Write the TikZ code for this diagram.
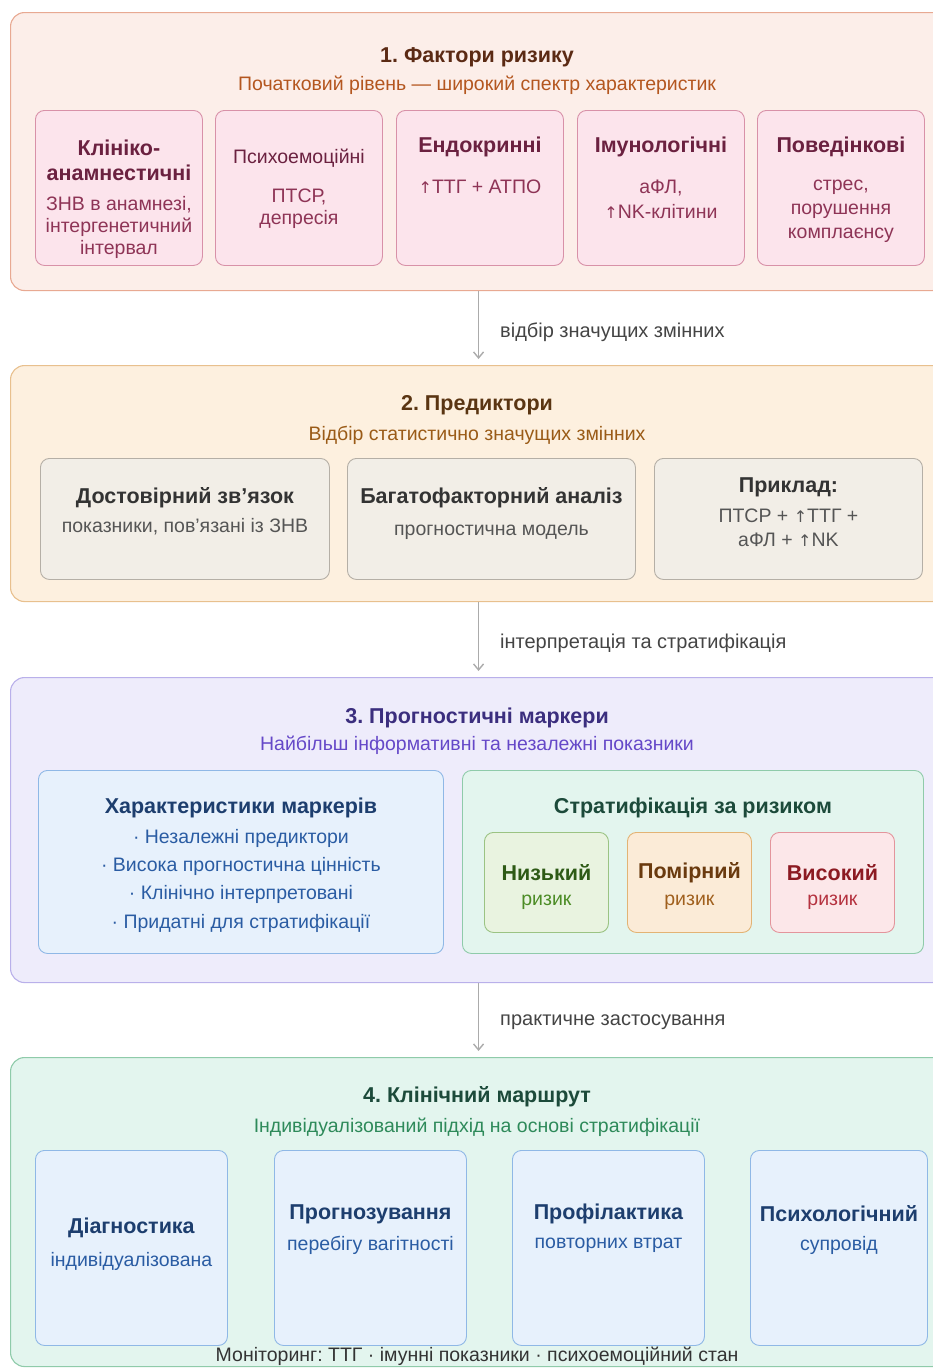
\documentclass[tikz,border=0pt]{standalone}
\usepackage{fontspec}
\setmainfont{Liberation Sans}
\newfontfamily\arrowfont{DejaVu Sans}
\newcommand{\upar}{{\arrowfont\fontsize{16}{16}\selectfont ↑}}
\usetikzlibrary{calc, positioning, arrows.meta}
\frenchspacing

\definecolor{riskbg}{HTML}{FCEEE9}
\definecolor{riskln}{HTML}{E8A992}
\definecolor{risktt}{HTML}{5B2A14}
\definecolor{risksb}{HTML}{B4561F}
\definecolor{cardbg}{HTML}{FCE4EC}
\definecolor{cardln}{HTML}{D891A8}
\definecolor{cardtt}{HTML}{6B2140}
\definecolor{cardsb}{HTML}{8E3456}
\definecolor{predbg}{HTML}{FDF0DF}
\definecolor{predln}{HTML}{E8C08E}
\definecolor{predtt}{HTML}{5A3512}
\definecolor{predsb}{HTML}{9A5B17}
\definecolor{greybg}{HTML}{F2EEE7}
\definecolor{greyln}{HTML}{B5AFA6}
\definecolor{greytt}{HTML}{333333}
\definecolor{greysb}{HTML}{555555}
\definecolor{markbg}{HTML}{EEECFB}
\definecolor{markln}{HTML}{B9B0EA}
\definecolor{marktt}{HTML}{3B2E7E}
\definecolor{marksb}{HTML}{6548C8}
\definecolor{bluebg}{HTML}{E7F1FC}
\definecolor{blueln}{HTML}{8FB8E6}
\definecolor{bluett}{HTML}{1D3E6E}
\definecolor{bluesb}{HTML}{2A5CA3}
\definecolor{mintbg}{HTML}{E3F5EE}
\definecolor{mintln}{HTML}{8FCBAA}
\definecolor{minttt}{HTML}{1C4A3A}
\definecolor{mintsb}{HTML}{2E8A5A}
\definecolor{lowbg}{HTML}{E9F3E0}
\definecolor{lowln}{HTML}{9BC383}
\definecolor{lowtt}{HTML}{2E5A16}
\definecolor{lowsb}{HTML}{4C8C26}
\definecolor{midbg}{HTML}{FBEBD7}
\definecolor{midln}{HTML}{E3B374}
\definecolor{midtt}{HTML}{6A3A0E}
\definecolor{midsb}{HTML}{A0601E}
\definecolor{highbg}{HTML}{FCE7E9}
\definecolor{highln}{HTML}{E3959C}
\definecolor{hightt}{HTML}{8C1A22}
\definecolor{highsb}{HTML}{B5323F}
\definecolor{flowln}{HTML}{ABABAB}
\definecolor{flowtx}{HTML}{444444}

\tikzset{
  panel/.style={draw, rounded corners=14pt, line width=1.1pt, inner sep=0pt, anchor=north west},
  card/.style={draw, rounded corners=9pt, line width=0.9pt, inner sep=0pt, anchor=north west},
  head/.style={font=\fontsize{21.5}{25}\selectfont\bfseries, align=center, inner sep=0pt},
  sub/.style={font=\fontsize{19.5}{23}\selectfont, align=center, inner sep=0pt},
  ctitle/.style={font=\fontsize{21.5}{25}\selectfont\bfseries, align=center, inner sep=0pt},
  csub/.style={font=\fontsize{19.5}{23}\selectfont, align=center, inner sep=0pt},
  flow/.style={draw=flowln, line width=1.4pt, -{Straight Barb[length=6pt,width=10pt]}, shorten >=6pt},
  flowlbl/.style={font=\fontsize{20}{24}\selectfont, text=flowtx, anchor=west, inner sep=0pt}
}

\begin{document}
\begin{tikzpicture}[x=1pt, y=-1pt]
  \useasboundingbox (0,0) rectangle (933,1368);
  \clip (0,0) rectangle (933,1368);

  % Stage panels
  \node[panel, fill=riskbg, draw=riskln, minimum width=936pt, minimum height=278pt] (risk) at (10,12) {};
  \node[panel, fill=predbg, draw=predln, minimum width=936pt, minimum height=236pt] (pred) at (10,365) {};
  \node[panel, fill=markbg, draw=markln, minimum width=936pt, minimum height=305pt] (mark) at (10,677) {};
  \node[panel, fill=mintbg, draw=mintln, minimum width=936pt, minimum height=309pt] (route) at (10,1057) {};

  % Flow between stages
  \draw[flow] (risk.south) -- (pred.north);
  \draw[flow] (pred.south) -- (mark.north);
  \draw[flow] (mark.south) -- (route.north);
  \node[flowlbl] (fl1) at (500,332) {відбір значущих змінних};
  \node[flowlbl] (fl2) at (500,643) {інтерпретація та стратифікація};
  \node[flowlbl] (fl3) at (500,1022) {практичне застосування};

  % 1. Risk factors
  \node[head, text=risktt] (riskhead) at (477,57) {1. Фактори ризику};
  \node[sub, text=risksb] (risksub) at (477,85) {Початковий рівень — широкий спектр характеристик};
  \foreach \n/\x in {rc1/35, rc2/215, rc3/396, rc4/577, rc5/757}
    \node[card, fill=cardbg, draw=cardln, minimum width=167pt, minimum height=155pt] (\n) at (\x,110) {};
  \node[ctitle, text=cardtt] (rt1) at (rc1 |- 0,160) {Клініко-\\анамнестичні};
  \node[csub, text=cardsb, font=\fontsize{19.5}{22}\selectfont] (rs1) at (rc1 |- 0,227) {ЗНВ в анамнезі,\\інтергенетичний\\інтервал};
  \node[csub, text=cardtt] (rt2) at (rc2 |- 0,158) {Психоемоційні};
  \node[csub, text=cardsb, font=\fontsize{19.5}{22}\selectfont] (rs2) at (rc2 |- 0,209) {ПТСР,\\депресія};
  \node[ctitle, text=cardtt] (rt3) at (rc3 |- 0,147) {Ендокринні};
  \node[csub, text=cardsb] (rs3) at (rc3 |- 0,187) {\upar ТТГ + АТПО};
  \node[ctitle, text=cardtt] (rt4) at (rc4 |- 0,147) {Імунологічні};
  \node[csub, text=cardsb, font=\fontsize{19.5}{25}\selectfont] (rs4) at (rc4 |- 0,199.5) {аФЛ,\\\upar NK-клітини};
  \node[ctitle, text=cardtt] (rt5) at (rc5 |- 0,147) {Поведінкові};
  \node[csub, text=cardsb, font=\fontsize{19.5}{24}\selectfont] (rs5) at (rc5 |- 0,211) {стрес,\\порушення\\комплаєнсу};

  % 2. Predictors
  \node[head, text=predtt] (predhead) at (477,405) {2. Предиктори};
  \node[sub, text=predsb] (predsub) at (477,435) {Відбір статистично значущих змінних};
  \foreach \n/\x/\w in {pc1/40/289, pc2/347/288, pc3/654/268}
    \node[card, fill=greybg, draw=greyln, minimum width=\w pt, minimum height=121pt] (\n) at (\x,458) {};
  \node[ctitle, text=greytt] (pt1) at (pc1 |- 0,498) {Достовірний зв'язок};
  \node[csub, text=greysb] (ps1) at (pc1 |- 0,527) {показники, пов'язані із ЗНВ};
  \node[ctitle, text=greytt] (pt2) at (pc2 |- 0,498) {Багатофакторний аналіз};
  \node[csub, text=greysb] (ps2) at (pc2 |- 0,532) {прогностична модель};
  \node[ctitle, text=greytt] (pt3) at (pc3 |- 0,487) {Приклад:};
  \node[csub, text=greysb, font=\fontsize{19.5}{24}\selectfont] (ps3) at (pc3 |- 0,528) {ПТСР + \upar ТТГ +\\аФЛ + \upar NK};

  % 3. Prognostic markers
  \node[head, text=marktt] (markhead) at (477,718) {3. Прогностичні маркери};
  \node[sub, text=marksb] (marksub) at (477,745) {Найбільш інформативні та незалежні показники};
  \node[card, fill=bluebg, draw=blueln, minimum width=405pt, minimum height=183pt] (chr) at (38,770) {};
  \node[card, fill=mintbg, draw=mintln, minimum width=461pt, minimum height=183pt] (strat) at (462,770) {};
  \node[ctitle, text=bluett] (chrhead) at (chr |- 0,808) {Характеристики маркерів};
  \node[csub, text=bluesb, font=\fontsize{19.5}{28.3}\selectfont] (chritems) at (chr |- 0,880.5)
    {· Незалежні предиктори\\· Висока прогностична цінність\\· Клінічно інтерпретовані\\· Придатні для стратифікації};
  \node[ctitle, text=minttt] (strathead) at (strat |- 0,808) {Стратифікація за ризиком};
  \foreach \n/\x/\bg/\ln in {lvl1/484/lowbg/lowln, lvl2/627/midbg/midln, lvl3/770/highbg/highln}
    \node[card, fill=\bg, draw=\ln, minimum width=124pt, minimum height=100pt] (\n) at (\x,832) {};
  \node[ctitle, text=lowtt] (lt1) at (lvl1 |- 0,873) {Низький};
  \node[csub, text=lowsb] (ls1) at (lvl1 |- 0,902) {ризик};
  \node[ctitle, text=midtt] (lt2) at (lvl2 |- 0,873) {Помірний};
  \node[csub, text=midsb] (ls2) at (lvl2 |- 0,902) {ризик};
  \node[ctitle, text=hightt] (lt3) at (lvl3 |- 0,873) {Високий};
  \node[csub, text=highsb] (ls3) at (lvl3 |- 0,902) {ризик};

  % 4. Clinical route
  \node[head, text=minttt] (routehead) at (477,1097) {4. Клінічний маршрут};
  \node[sub, text=mintsb] (routesub) at (477,1127) {Індивідуалізований підхід на основі стратифікації};
  \foreach \n/\x/\w in {ro1/35/192, ro2/274/192, ro3/512/192, ro4/750/177}
    \node[card, fill=bluebg, draw=blueln, minimum width=\w pt, minimum height=195pt] (\n) at (\x,1150) {};
  \node[ctitle, text=bluett] (ot1) at (ro1 |- 0,1228) {Діагностика};
  \node[csub, text=bluesb] (os1) at (ro1 |- 0,1261) {індивідуалізована};
  \node[ctitle, text=bluett] (ot2) at (ro2 |- 0,1214) {Прогнозування};
  \node[csub, text=bluesb] (os2) at (ro2 |- 0,1245) {перебігу вагітності};
  \node[ctitle, text=bluett] (ot3) at (ro3 |- 0,1214) {Профілактика};
  \node[csub, text=bluesb] (os3) at (ro3 |- 0,1245) {повторних втрат};
  \node[ctitle, text=bluett] (ot4) at (ro4 |- 0,1214) {Психологічний};
  \node[csub, text=bluesb] (os4) at (ro4 |- 0,1245) {супровід};
  \node[csub, text=greytt] (monitor) at (477,1356) {Моніторинг: ТТГ · імунні показники · психоемоційний стан};
\end{tikzpicture}
\end{document}
